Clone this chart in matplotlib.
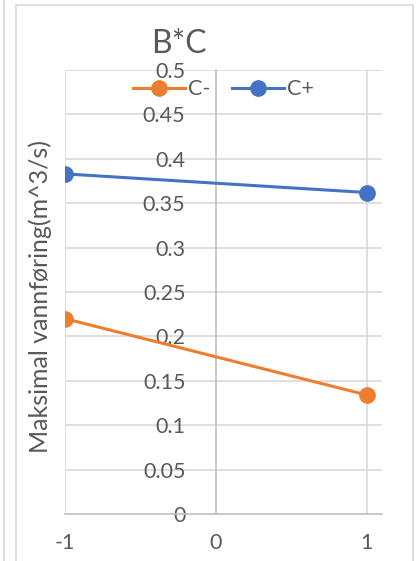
import matplotlib.pyplot as plt
import matplotlib.patches as mpatches

x_levels = [-1, 1]
c_minus = [0.220, 0.134]
c_plus = [0.383, 0.362]
y_ticks = [0, 0.05, 0.1, 0.15, 0.2, 0.25, 0.3, 0.35, 0.4, 0.45, 0.5]
y_tick_labels = ['0', '0.05', '0.1', '0.15', '0.2', '0.25', '0.3', '0.35', '0.4', '0.45', '0.5']
x_ticks = [-1, 0, 1]
x_tick_labels = ['-1', '0', '1']

plt.rcParams['font.family'] = ['Lato', 'DejaVu Sans']
text_col = '#595959'
grid_col = '#d9d9d9'

fig = plt.figure(figsize=(4.16, 5.61), dpi=100)
ax = fig.add_axes([65 / 416, 47 / 561, 317 / 416, 444 / 561])

# chart frame lines
fig.add_artist(mpatches.Rectangle((16 / 416, -0.1), 397 / 416, 1.1 - 5 / 561,
                                  transform=fig.transFigure, fill=False,
                                  edgecolor='#d9d9d9', linewidth=1.2))
fig.add_artist(plt.Line2D([4 / 416, 4 / 416], [0, 1], transform=fig.transFigure,
                          color='#d9d9d9', linewidth=1.2))

ax.plot(x_levels, c_minus, color='#ED7D31', linewidth=2.2, marker='o',
        markersize=11, label='C-', zorder=3)
ax.plot(x_levels, c_plus, color='#4472C4', linewidth=2.2, marker='o',
        markersize=11, label='C+', zorder=3)

ax.set_xlim(-1, 1.1)
ax.set_ylim(0, 0.5)

ax.set_yticks(y_ticks)
ax.set_yticklabels(y_tick_labels)
ax.set_xticks(x_ticks)
ax.set_xticklabels(x_tick_labels)

for v in y_ticks[1:]:
    ax.axhline(v, color=grid_col, linewidth=1.2, zorder=1)
for v in [-1, 1]:
    ax.axvline(v, color=grid_col, linewidth=1.2, zorder=1)

for s in ['top', 'right']:
    ax.spines[s].set_visible(False)
ax.spines['left'].set_position(('data', 0))
ax.spines['left'].set_color('#bfbfbf')
ax.spines['left'].set_linewidth(1.2)
ax.spines['bottom'].set_color('#bfbfbf')
ax.spines['bottom'].set_linewidth(1.2)

ax.tick_params(axis='y', length=0, pad=22, labelsize=15.5, labelcolor=text_col)
ax.tick_params(axis='x', length=0, pad=14, labelsize=15.5, labelcolor=text_col)

ax.set_ylabel('Maksimal vannføring(m^3/s)', fontsize=18, color=text_col)
ax.yaxis.set_label_coords(-0.04, 0.49)

ax.set_title('B*C', fontsize=23, color=text_col, x=0.36, y=1.02)

leg = ax.legend(loc='center', bbox_to_anchor=(0.50, 0.957), ncol=2, frameon=False,
                fontsize=15.5, handlelength=2.4, columnspacing=1.0, handletextpad=0.15,
                labelcolor=text_col)

fig.savefig('out.png', dpi=100)
